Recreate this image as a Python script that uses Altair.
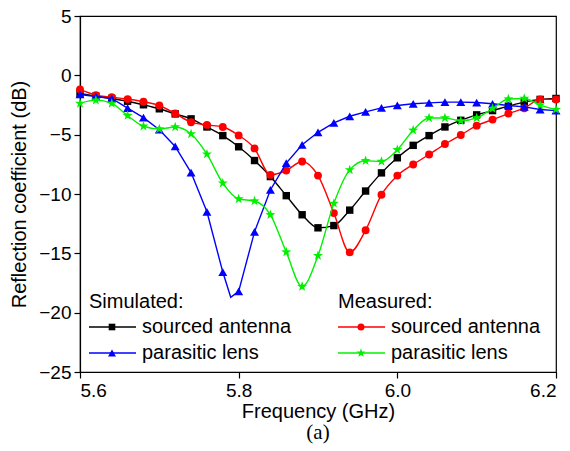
import altair as alt
import pandas as pd

freq = [round(5.6 + 0.02 * i, 2) for i in range(31)]

sim_sourced = [-1.53, -1.75, -1.95, -2.18, -2.48, -2.82, -3.25, -3.67, -4.35, -5.08,
               -6.02, -7.18, -8.53, -10.14, -11.75, -12.85, -12.66, -11.36, -9.75, -8.22,
               -6.95, -5.90, -5.08, -4.35, -3.79, -3.33, -2.97, -2.60, -2.26, -2.03, -1.95]
meas_sourced = [-1.19, -1.67, -1.84, -2.00, -2.23, -2.54, -3.22, -3.95, -4.18, -4.35,
                -5.06, -6.16, -8.39, -8.02, -7.26, -8.45, -11.61, -14.92, -13.05, -10.06,
                -8.45, -7.51, -6.67, -5.79, -5.03, -4.24, -3.73, -3.22, -2.77, -2.03, -2.03]
sim_lens = [-1.61, -1.78, -1.95, -2.77, -3.56, -4.58, -5.99, -8.19, -11.50, -16.58,
            -18.20, -13.19, -9.66, -7.40, -5.85, -4.80, -4.01, -3.45, -3.08, -2.74,
            -2.54, -2.40, -2.32, -2.26, -2.26, -2.29, -2.40, -2.54, -2.66, -2.88, -2.97]
meas_lens = [-2.37, -2.09, -2.37, -3.39, -4.29, -4.52, -4.35, -4.94, -6.64, -9.09,
             -10.42, -10.59, -11.75, -14.89, -17.80, -15.20, -10.79, -7.97, -7.20, -7.26,
             -6.27, -4.63, -3.59, -3.59, -3.84, -3.59, -2.80, -2.00, -1.95, -2.51, -2.88]
# extra vertex of the simulated lens curve (sharp minimum between markers)
sim_lens_min_f = [5.79]
sim_lens_min_v = [-18.70]

series_names = ["Simulated sourced antenna", "Measured sourced antenna",
                "Simulated parasitic lens", "Measured parasitic lens"]
series_colors = ["#000000", "#ff0000", "#0000ff", "#00f000"]

STAR = ("M0,-1L0.235,-0.324L0.951,-0.309L0.38,0.124L0.588,0.809L0,0.4"
        "L-0.588,0.809L-0.38,0.124L-0.951,-0.309L-0.235,-0.324Z")
shapes = ["square", "circle", "triangle-up", STAR]
sizes = [55, 62, 80, 110]

W, H = 476, 356

xscale = alt.Scale(domain=[5.6, 6.2], nice=False, zero=False)
yscale = alt.Scale(domain=[-25, 5], nice=False, zero=False)

xenc = alt.X("f:Q", scale=xscale,
             axis=alt.Axis(title="Frequency (GHz)", values=[5.6, 5.8, 6.0, 6.2], format=".1f"))
yenc = alt.Y("v:Q", scale=yscale,
             axis=alt.Axis(title="Reflection coefficient (dB)", values=[-25, -20, -15, -10, -5, 0, 5]))

layers = []
all_vals = [sim_sourced, meas_sourced, sim_lens, meas_lens]
for k, (name, vals) in enumerate(zip(series_names, all_vals)):
    df = pd.DataFrame({"f": freq, "v": vals})
    if k == 2:
        ldf = pd.concat([df, pd.DataFrame({"f": sim_lens_min_f, "v": sim_lens_min_v})]).sort_values("f")
        line = alt.Chart(ldf).mark_line(color=series_colors[k], strokeWidth=1.4,
                                         interpolate="linear").encode(x=xenc, y=yenc)
    else:
        line = alt.Chart(df).mark_line(color=series_colors[k], strokeWidth=1.4,
                                        interpolate="monotone").encode(x=xenc, y=yenc)
    pts = alt.Chart(df).mark_point(shape=shapes[k], size=sizes[k], filled=True, opacity=1,
                                    color=series_colors[k], strokeWidth=0.5).encode(x=xenc, y=yenc)
    layers += [line, pts]

# custom legend (pixel positions inside plot area)
FONT = "Liberation Sans"
def txt(s, x, y):
    return alt.Chart(pd.DataFrame({"t": [s]})).mark_text(
        align="left", baseline="middle", font=FONT, fontSize=20, color="#000000"
    ).encode(x=alt.value(x), y=alt.value(y), text="t:N")

def entry(k, x0, y):
    ln = alt.Chart(pd.DataFrame({"a": [0]})).mark_rule(color=series_colors[k], strokeWidth=1.4).encode(
        x=alt.value(x0), x2=alt.value(x0 + 47), y=alt.value(y))
    pt = alt.Chart(pd.DataFrame({"a": [0]})).mark_point(
        shape=shapes[k], size=sizes[k] * 0.8, filled=True, opacity=1, color=series_colors[k]).encode(
        x=alt.value(x0 + 23), y=alt.value(y))
    return [ln, pt]

leg = []
leg.append(txt("Simulated:", 9, 286))
leg += entry(0, 9, 311)
leg.append(txt("sourced antenna", 62, 311))
leg += entry(2, 9, 337)
leg.append(txt("parasitic lens", 62, 337))
leg.append(txt("Measured:", 258, 286))
leg += entry(1, 258, 311)
leg.append(txt("sourced antenna", 311, 311))
leg += entry(3, 258, 337)
leg.append(txt("parasitic lens", 311, 337))

caption = alt.Chart(pd.DataFrame({"t": ["(a)"]})).mark_text(
    align="center", baseline="middle", font="Liberation Serif", fontSize=21, color="#000000"
).encode(x=alt.value(W / 2), y=alt.value(417), text="t:N")

chart = alt.layer(*layers, *leg, caption).properties(
    width=W, height=H,
    autosize=alt.AutoSizeParams(type="none"),
    padding={"left": 80, "top": 16, "right": 14, "bottom": 79},
).configure_view(stroke="#000000", strokeWidth=1.2).configure_axis(
    grid=False, domainColor="#000000", domainWidth=1.2, tickColor="#000000", tickWidth=1.2,
    tickSize=6, labelFont=FONT, labelFontSize=19, labelColor="#000000",
    titleFont=FONT, titleFontSize=20, titleColor="#000000", titleFontWeight="normal",
    labelPadding=3,
).configure_axisY(titlePadding=9).configure_axisX(titlePadding=1)

chart.save("out.html", embed_options={"renderer": "svg", "actions": False})
